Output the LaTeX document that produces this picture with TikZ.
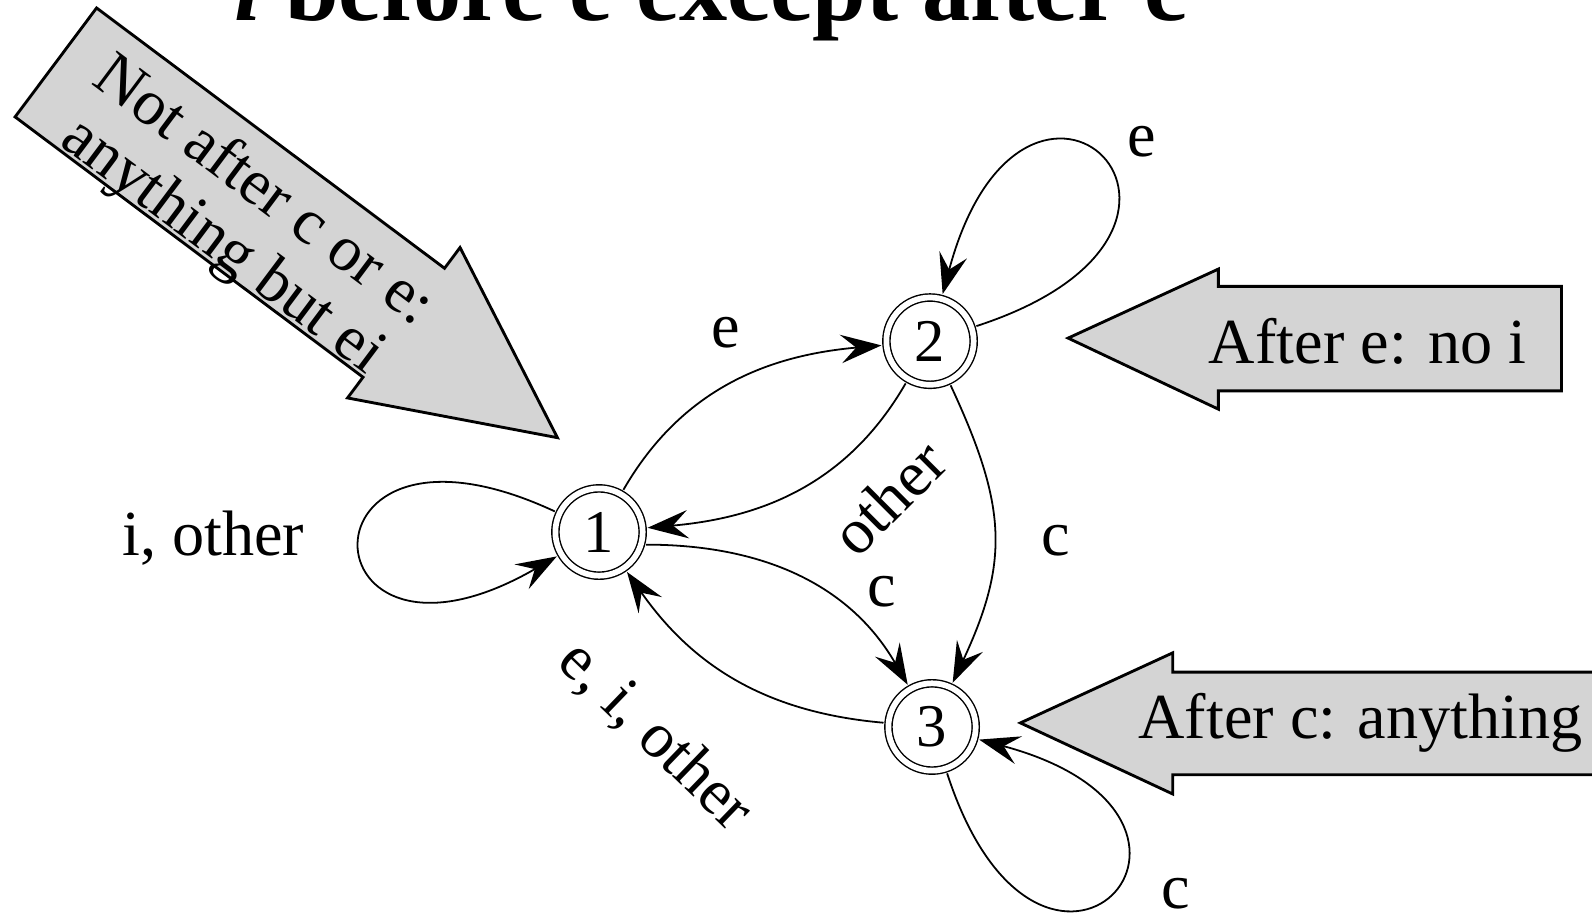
\documentclass[tikz,border=0pt]{standalone}
\usepackage{fontspec}
\setmainfont{Liberation Serif}
\usepackage{xcolor}
\usepackage{tikz}
\usetikzlibrary{arrows.meta}

\definecolor{calloutgray}{gray}{0.83}

\begin{document}
\begin{tikzpicture}[
    fsmstate/.style={
        circle,
        draw,
        double,
        double distance=1.6pt,
        line width=0.4pt,
        minimum size=0.86cm,
        inner sep=0pt,
        outer sep=0.05cm,
        font=\fontsize{17}{17}\selectfont
    },
    trans/.style={
        line width=0.5pt,
        -{Stealth[length=4mm, width=2.8mm, inset=1.5mm]}
    },
    lbl/.style={
        font=\fontsize{18}{20}\selectfont,
        inner sep=0pt
    },
    callout/.style={
        draw=black,
        fill=calloutgray,
        line width=0.8pt
    },
    callouttext/.style={
        font=\fontsize{18}{19}\selectfont,
        align=center,
        inner sep=0pt
    }
]
    \clip (0,0) rectangle (15.68,9.08);

    % Title (runs off the top edge)
    \node [font=\fontsize{27}{30}\selectfont\bfseries, anchor=base, inner sep=0pt] (title) at (7.0,8.88) {\textit{i} before e except after c};

    % States
    \node [fsmstate] (s1) at (5.90,3.84) {1};
    \node [fsmstate] (s2) at (9.16,5.72) {2};
    \node [fsmstate] (s3) at (9.18,1.92) {3};

    % Transitions
    \draw [trans] (s1) to[out=155, in=210, min distance=2.9cm] (s1);
    \draw [trans] (s1) to[out=60, in=185] (s2);
    \draw [trans] (s2) to[out=18, in=75, min distance=3.1cm] (s2);
    \draw [trans] (s2) to[out=240, in=5] (s1);
    \draw [trans] (s1.-15) to[out=0, in=120] (s3);
    \draw [trans] (s2) to[out=-65, in=65, looseness=1.15] (s3);
    \draw [trans] (s3) to[out=175, in=-55] (s1);
    \draw [trans] (s3) to[out=-72, in=-15, min distance=3.0cm] (s3);

    % Transition labels
    \node [lbl] (loopOne) at (2.10,3.78) {i, other};
    \node [lbl] (loopTwo) at (11.25,7.68) {e};
    \node [lbl] (eToTwo) at (7.15,5.80) {e};
    \node [lbl, rotate=45] (otherToOne) at (8.75,4.18) {other};
    \node [lbl] (cFromTwo) at (10.40,3.75) {c};
    \node [lbl] (cFromOne) at (8.68,3.25) {c};
    \node [lbl, rotate=-44] (backToOne) at (6.45,1.83) {e, i, other};
    \node [lbl] (loopThree) at (11.58,0.28) {c};

    % Callout arrows
    \begin{scope}[shift={(0.55,8.465)}, rotate=-36.8]
        \draw [callout] (0,0.67) -- (4.28,0.67) -- (4.28,0.925) -- (6.17,0) -- (4.28,-0.925) -- (4.28,-0.67) -- (0,-0.67) -- cycle;
        \node [callouttext, rotate=-36.8] (noteStart) at (2.40,-0.14) {Not after c or e:\\anything but ei};
    \end{scope}

    \draw [callout] (10.52,5.75) -- (12.00,6.43) -- (12.00,6.26) -- (15.38,6.26) -- (15.38,5.23) -- (12.00,5.23) -- (12.00,5.05) -- cycle;
    \node [callouttext] (noteE) at (13.47,5.72) {After e: no i};

    \draw [callout] (10.05,1.96) -- (11.55,2.65) -- (11.55,2.46) -- (16.00,2.46) -- (16.00,1.45) -- (11.55,1.45) -- (11.55,1.26) -- cycle;
    \node [callouttext] (noteC) at (13.40,1.96) {After c: anything};

\end{tikzpicture}
\end{document}
